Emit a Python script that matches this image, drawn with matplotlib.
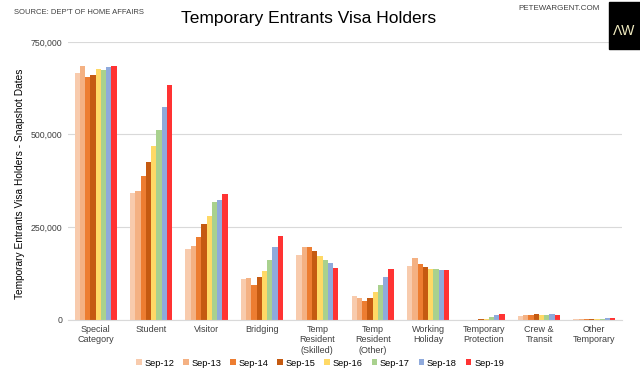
import matplotlib
matplotlib.use("Agg")
import matplotlib.pyplot as plt
import numpy as np
from matplotlib.ticker import FuncFormatter
from matplotlib.patches import Rectangle

plt.rcParams['font.family'] = ['Liberation Sans', 'DejaVu Sans']

categories = ["Special\nCategory", "Student", "Visitor", "Bridging",
              "Temp\nResident\n(Skilled)", "Temp\nResident\n(Other)",
              "Working\nHoliday", "Temporary\nProtection", "Crew &\nTransit",
              "Other\nTemporary"]
series_names = ["Sep-12", "Sep-13", "Sep-14", "Sep-15", "Sep-16", "Sep-17", "Sep-18", "Sep-19"]
colors = ["#F8CBAD", "#F4B183", "#ED7D31", "#C55A11", "#FFD966", "#A9D18E", "#8FAADC", "#FF3333"]

sep12 = [665000, 342000, 190000, 110000, 175000, 64000, 145000, 0, 9000, 1000]
sep13 = [684000, 347000, 199000, 112000, 196000, 58000, 165000, 0, 11000, 1000]
sep14 = [656000, 388000, 224000, 93000, 196000, 51000, 151000, 0, 13000, 2000]
sep15 = [662000, 425000, 258000, 114000, 186000, 59000, 143000, 1000, 14000, 2000]
sep16 = [677000, 470000, 279000, 132000, 171000, 74000, 137000, 1500, 11000, 2000]
sep17 = [674000, 513000, 317000, 161000, 160000, 94000, 136000, 7000, 11000, 2000]
sep18 = [683000, 574000, 324000, 197000, 153000, 114000, 134000, 12000, 14000, 3000]
sep19 = [686000, 633000, 338000, 227000, 139000, 136000, 134000, 15000, 11000, 3000]
series = [sep12, sep13, sep14, sep15, sep16, sep17, sep18, sep19]

fig = plt.figure(figsize=(6.4, 3.74), dpi=100)
ax = fig.add_axes([68/640, 1-319.5/374, (622-68)/640, (319.5-42)/374])

x = np.arange(len(categories))
n = len(series)
group_w = 0.76
bw = group_w / n
for i, (vals, c, name) in enumerate(zip(series, colors, series_names)):
    ax.bar(x - group_w/2 + bw*(i+0.5), vals, width=bw, color=c, label=name, linewidth=0)

ax.set_xlim(-0.5, len(categories)-0.5)
ax.set_ylim(0, 750000)
ax.set_yticks([0, 250000, 500000, 750000])
ax.yaxis.set_major_formatter(FuncFormatter(lambda v, p: f"{int(v):,}"))
ax.grid(axis="y", color="#D9D9D9", linewidth=0.8)
ax.set_axisbelow(True)
for s in ["top", "right", "left"]:
    ax.spines[s].set_visible(False)
ax.spines["bottom"].set_color("#D9D9D9")
ax.tick_params(axis="y", length=0, labelsize=6.3, labelcolor="#404040", pad=4)
ax.tick_params(axis="x", length=0, labelsize=6.5, labelcolor="#404040", pad=4)
ax.set_xticks(x)
ax.set_xticklabels(categories)
ax.set_ylabel("Temporary Entrants Visa Holders - Snapshot Dates", fontsize=7.3, color="#000000")
ax.yaxis.set_label_coords(-0.077, 0.49)

fig.text(309/640, 1-18/374, "Temporary Entrants Visa Holders", ha="center", va="center", fontsize=12.5, color="#000000")
fig.text(14/640, 1-12/374, "SOURCE: DEP'T OF HOME AFFAIRS", ha="left", va="center", fontsize=5.5, color="#404040")
fig.text(518/640, 1-9/374, "PETEWARGENT.COM", ha="left", va="center", fontsize=5.8, color="#404040")
fig.patches.append(Rectangle((609/640, 1-49/374), 31/640, 47/374, transform=fig.transFigure, color="black", zorder=5))
fig.text(624/640, 1-31/374, "ΛW", ha="center", va="center", fontsize=10, color="#F0EBC0", zorder=6)

handles, labels = ax.get_legend_handles_labels()
fig.legend(handles, labels, loc="center", bbox_to_anchor=(320/640, 1-363/374), ncol=8, fontsize=6.7, frameon=False,
           handlelength=0.6, handleheight=0.6, handletextpad=0.3, columnspacing=0.95)

fig.savefig("out.png", dpi=100)
